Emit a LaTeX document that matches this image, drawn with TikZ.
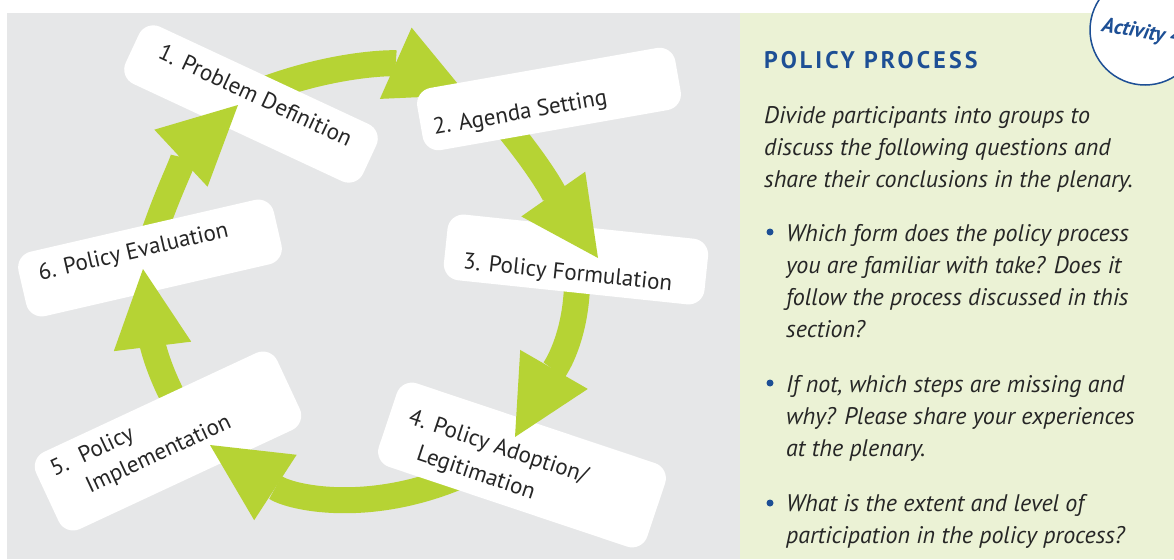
\documentclass[tikz,border=0pt]{standalone}
\usepackage{fontspec}
\setmainfont{PT Sans}
\newfontfamily\titlefont[LetterSpace=13]{PT Sans}
\usetikzlibrary{arrows.meta}

\definecolor{panelgray}{HTML}{E6E7E8}
\definecolor{panelgreen}{HTML}{EBF2D5}
\definecolor{cyclegreen}{HTML}{B6D334}
\definecolor{titleblue}{HTML}{1D4F95}
\definecolor{inkgray}{HTML}{262626}

\begin{document}
\begin{tikzpicture}[x=1pt, y=1pt,
  stepbox/.style={rectangle, rounded corners=16pt, fill=white, inner sep=0pt},
  steplabel/.style={anchor=base west, inner sep=0pt, text=inkgray,
    font=\fontsize{23}{32}\selectfont, align=left},
  cyclearrow/.style={draw=cyclegreen, line width=26pt,
    -{Triangle[length=78pt, width=78pt, line width=0pt]}},
  bodytext/.style={anchor=base west, inner sep=0pt, text=inkgray, align=left,
    font=\fontsize{24}{31.7}\selectfont\itshape},
  dot/.style={circle, fill=titleblue, minimum size=7pt, inner sep=0pt},
]

  \useasboundingbox (0,0) rectangle (1174,-559);
  \clip (0,0) rectangle (1174,-559);
  \fill[white] (0,0) rectangle (1174,-559);

  % === panels ===
  \fill[panelgray]  (7,-13) rectangle (740,-559);
  \fill[panelgreen] (740,-13) rectangle (1174,-559);

  % === ends of the cycle arrows ===
  \coordinate (t12) at (266,-89);
  \coordinate (h12) at (467,-95);
  \coordinate (t23) at (502,-121);
  \coordinate (h23) at (598,-258);
  \coordinate (t34) at (577,-270);
  \coordinate (h34) at (515,-437);
  \coordinate (t45) at (455,-478);
  \coordinate (h45) at (210,-445);
  \coordinate (t56) at (180,-410);
  \coordinate (h56) at (143,-269);
  \coordinate (t61) at (150,-245);
  \coordinate (h61) at (238,-105);

  % === 1 -> 2, then step 1 ===
  \draw[cyclearrow] (t12) to[out=20, in=156] (h12);
  \begin{scope}[shift={(251,-104)}, rotate=-25, transform shape]
    \node[stepbox, minimum width=262pt, minimum height=63pt] (s1) at (0,0) {};
    \node[steplabel] (l1) at (-105,2) {1. Problem Definition};
  \end{scope}

  % === 6 -> 1, then step 6 ===
  \draw[cyclearrow] (t61) to[out=72, in=-137] (h61);
  \begin{scope}[shift={(150,-258)}, rotate=13, transform shape]
    \node[stepbox, minimum width=262pt, minimum height=66pt] (s6) at (0,0) {};
    \node[steplabel] (l6) at (-112,3) {6. Policy Evaluation};
  \end{scope}

  % === 5 -> 6, then step 5 ===
  \draw[cyclearrow] (t56) to[out=120, in=-83] (h56);
  \begin{scope}[shift={(168,-441)}, rotate=25, transform shape]
    \node[stepbox, minimum width=266pt, minimum height=85pt] (s5) at (0,0) {};
    % base anchor sits on the last line
    \node[steplabel] (l5) at (-118,-14.5) {\makebox[31pt][l]{5.}Policy\\[-2pt]\hspace*{25pt}Implementation};
  \end{scope}

  % === 4 -> 5, then step 4 ===
  \draw[cyclearrow] (t45) to[out=202, in=-33] (h45);
  \begin{scope}[shift={(522,-465)}, rotate=-18.5, transform shape]
    \node[stepbox, minimum width=283pt, minimum height=88pt] (s4) at (0,0) {};
    \node[steplabel] (l4) at (-122,-29) {4. Policy Adoption/\\\hspace*{19pt}Legitimation};
  \end{scope}

  % === 3 -> 4, then step 3 ===
  \draw[cyclearrow] (t34) to[out=-88, in=60] (h34);
  \begin{scope}[shift={(576,-259.5)}, rotate=-6, transform shape]
    \node[stepbox, minimum width=262pt, minimum height=66pt] (s3) at (0,0) {};
    \node[steplabel] (l3) at (-112,-21) {3. Policy Formulation};
  \end{scope}

  % === 2 -> 3, then step 2 ===
  \draw[cyclearrow] (t23) to[out=-50, in=125] (h23);
  \begin{scope}[shift={(549,-99)}, rotate=10, transform shape]
    \node[stepbox, minimum width=262pt, minimum height=63pt] (s2) at (0,0) {};
    \node[steplabel] (l2) at (-119,-15.6) {2. Agenda Setting};
  \end{scope}

  % === activity panel (multi-line texts sit on their last baseline) ===
  \node[titleblue, anchor=base west, inner sep=0pt, font=\titlefont\fontsize{24}{28}\selectfont\bfseries]
    (head) at (764,-69) {POLICY PROCESS};
  \node[bodytext] (intro) at (764,-187) {Divide participants into groups to\\discuss the following questions and\\share their conclusions in the plenary.};

  \node[dot] (d1) at (770,-232) {};
  \node[bodytext] (q1) at (786,-337) {Which form does the policy process\\you are familiar with take? Does it\\follow the process discussed in this\\section?};
  \node[dot] (d2) at (770,-383) {};
  \node[bodytext] (q2) at (786,-456) {If not, which steps are missing and\\why? Please share your experiences\\at the plenary.};
  \node[dot] (d3) at (770,-503) {};
  \node[bodytext] (q3) at (786,-543) {What is the extent and level of\\participation in the policy process?};

  % === activity badge ===
  \node[circle, draw=titleblue, line width=1.5pt, fill=white, minimum size=110pt] (badge) at (1145,-30) {};
  \node[titleblue, anchor=base west, inner sep=0pt, rotate=-10,
    font=\fontsize{21}{24}\selectfont\bfseries\itshape] (badgetext) at (1101,-31) {Activity 4};

\end{tikzpicture}
\end{document}
